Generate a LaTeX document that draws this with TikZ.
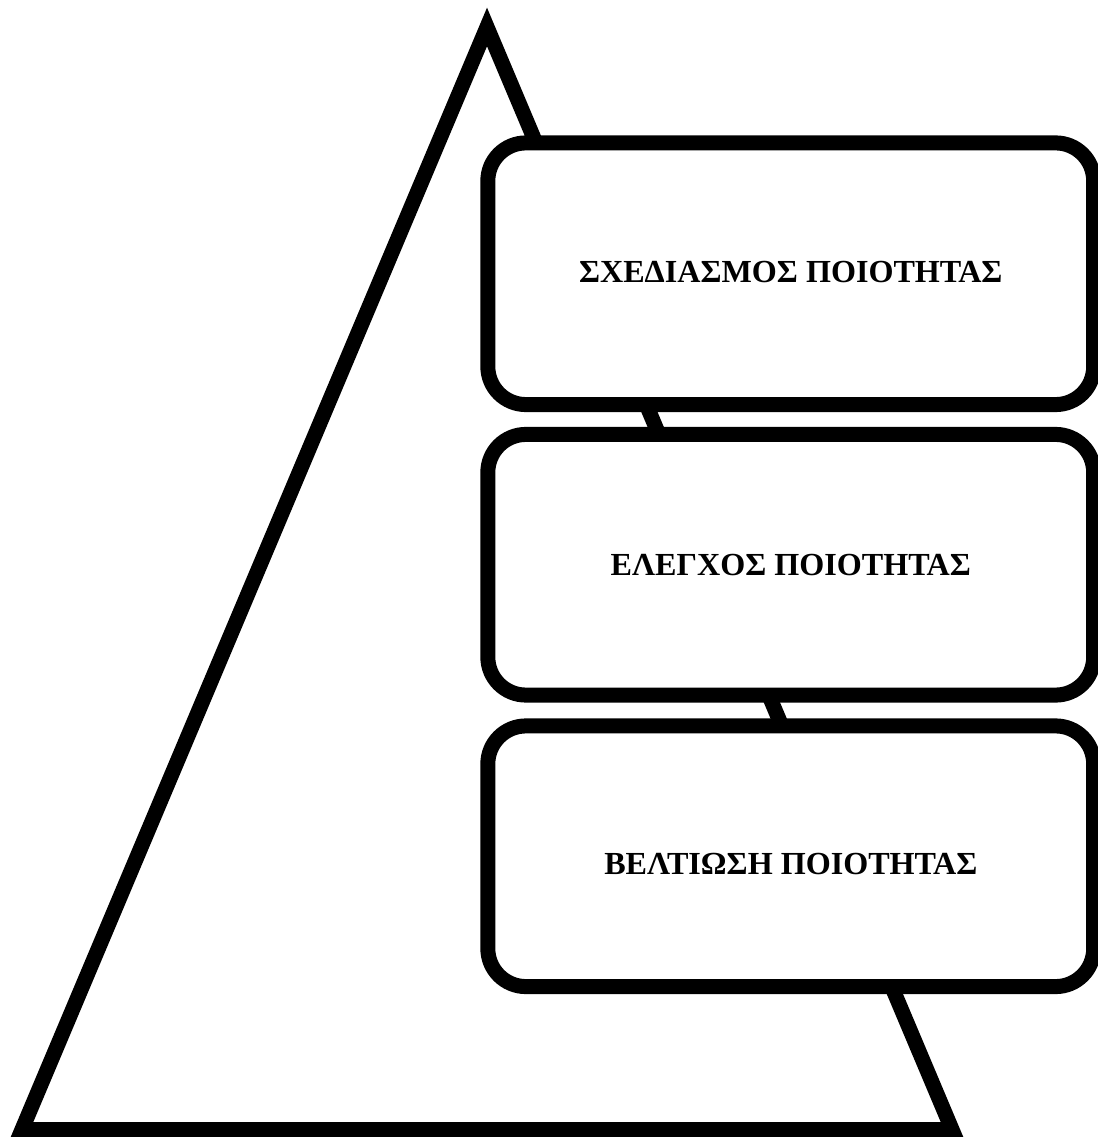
\documentclass[tikz,border=0pt]{standalone}
\usepackage{fontspec}
\setmainfont{Liberation Serif}
\begin{document}
\begin{tikzpicture}[x=0.01cm,y=-0.01cm,
  thick line/.style={line width=0.15cm},
  qbox/.style={thick line, draw=black, fill=white, rounded corners=0.38cm,
    rectangle, minimum width=6.055cm, inner sep=0pt},
  qlabel/.style={font=\fontsize{9.14pt}{10pt}\selectfont\bfseries, anchor=base, inner sep=0pt}]
\useasboundingbox (0,0) rectangle (1097,1137);
% pyramid
\coordinate (apex) at (487,27);
\coordinate (bl) at (22,1129.5);
\coordinate (br) at (952,1129.5);
\draw[thick line, line join=miter] (apex) -- (bl) -- (br) -- cycle;
% boxes
\node[qbox, minimum height=2.615cm] (b1) at (790.75,273.75) {};
\node[qbox, minimum height=2.605cm] (b2) at (790.75,564.75) {};
\node[qbox, minimum height=2.605cm] (b3) at (790.75,856.25) {};
% labels
\node[qlabel] (t1) at (790.75,282.5) {ΣΧΕΔΙΑΣΜΟΣ ΠΟΙΟΤΗΤΑΣ};
\node[qlabel] (t2) at (790.75,575) {ΕΛΕΓΧΟΣ ΠΟΙΟΤΗΤΑΣ};
\node[qlabel] (t3) at (790.75,874) {ΒΕΛΤΙΩΣΗ ΠΟΙΟΤΗΤΑΣ};
\end{tikzpicture}
\end{document}
